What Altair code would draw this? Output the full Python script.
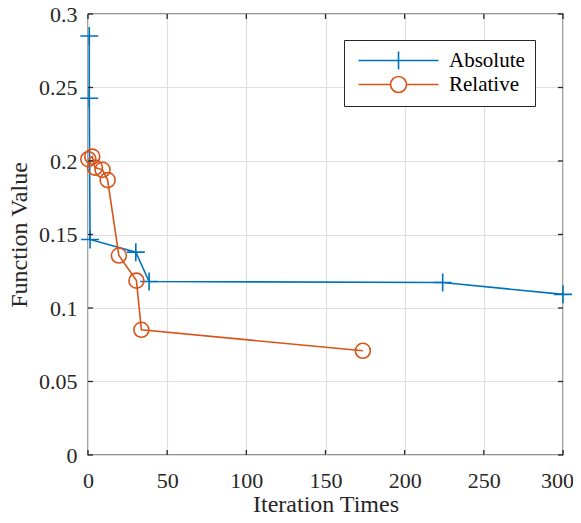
import altair as alt
import pandas as pd

# ---- data ----
abs_x = [0.8, 0.8, 1.3, 30.2, 38.6, 224, 300]
abs_y = [0.285, 0.2427, 0.1466, 0.138, 0.118, 0.1173, 0.1093]
rel_x = [0.2, 2.7, 4.4, 9.2, 12.4, 19.5, 30.6, 33.7, 173.6]
rel_y = [0.2012, 0.203, 0.1955, 0.194, 0.187, 0.1357, 0.1186, 0.0852, 0.0709]
series_names = ["Absolute", "Relative"]
series_colors = ["#0072BD", "#D95319"]
x_ticks = [0, 50, 100, 150, 200, 250, 300]
y_ticks = [0, 0.05, 0.1, 0.15, 0.2, 0.25, 0.3]
x_title = "Iteration Times"
y_title = "Function Value"

FONT = "Liberation Serif, Times New Roman, Times, serif"
W, H = 475, 441
AX = "#262626"

df = pd.concat([
    pd.DataFrame({"series": "Absolute", "x": abs_x, "y": abs_y, "idx": range(len(abs_x))}),
    pd.DataFrame({"series": "Relative", "x": rel_x, "y": rel_y, "idx": range(len(rel_x))}),
], ignore_index=True)

xscale = alt.Scale(domain=[0, 300], nice=False, zero=False)
yscale = alt.Scale(domain=[0, 0.3], nice=False, zero=False)
color_scale = alt.Scale(domain=series_names, range=series_colors)

xaxis = alt.Axis(values=x_ticks, title=x_title, labelPadding=15, titleY=49,
                 titleBaseline="middle", labelFlush=False,
                 labelOffset={"condition": {"test": "datum.value === 300", "value": -6}, "value": 0})
yaxis = alt.Axis(values=y_ticks, title=y_title, labelPadding=11, titleX=-62,
                 titleBaseline="alphabetic", labelFlush=False, format="~g")

X = alt.X("x:Q", scale=xscale, axis=xaxis)
Y = alt.Y("y:Q", scale=yscale, axis=yaxis)

base = alt.Chart(df)

lines = base.mark_line(strokeWidth=1.6, clip=False).encode(
    x=X, y=Y,
    color=alt.Color("series:N", scale=color_scale, legend=None),
    detail="series:N",
    order="idx:Q",
)

crosses = base.transform_filter("datum.series == 'Absolute'").mark_point(
    shape="M-1,0H1M0,-1V1", size=324, filled=False, strokeWidth=1.6, opacity=1, clip=False
).encode(
    x=X, y=Y,
    color=alt.Color("series:N", scale=color_scale, legend=None),
)

circles = base.transform_filter("datum.series == 'Relative'").mark_point(
    shape="circle", size=225, filled=False, strokeWidth=1.6, opacity=1, clip=False
).encode(
    x=X, y=Y,
    color=alt.Color("series:N", scale=color_scale, legend=None),
)

legend_paths = [
    "M-0.86,0H10.57M4.86,-1.29V1.29",
    "M-0.86,0H3.72M6,0H10.57M3.72,0A1.14,1.14 0 1,0 6,0A1.14,1.14 0 1,0 3.72,0",
]
leg = alt.Legend(title=None, orient="none", legendX=256, legendY=26,
                 labelFont=FONT, labelFontSize=21, labelColor="#000000",
                 symbolSize=196, symbolStrokeWidth=1.6, labelOffset=74,
                 padding=10, rowPadding=0, strokeColor=AX, fillColor="white",
                 cornerRadius=0, symbolOpacity=1)
legend_layer = base.mark_point(filled=False, strokeWidth=1.6, opacity=0).encode(
    x=X, y=Y,
    shape=alt.Shape("series:N", scale=alt.Scale(domain=series_names, range=legend_paths), legend=leg),
    stroke=alt.Stroke("series:N", scale=alt.Scale(domain=series_names, range=series_colors), legend=leg),
)

# inward tick marks on all four sides
xt = pd.DataFrame({"x": x_ticks})
yt = pd.DataFrame({"y": y_ticks})
tick_style = dict(color=AX, strokeWidth=1.3)
xb = alt.Chart(xt).mark_rule(**tick_style).encode(x=X, y=alt.value(H), y2=alt.value(H - 5))
xtop = alt.Chart(xt).mark_rule(**tick_style).encode(x=X, y=alt.value(0), y2=alt.value(5))
yl = alt.Chart(yt).mark_rule(**tick_style).encode(y=Y, x=alt.value(0), x2=alt.value(5))
yr = alt.Chart(yt).mark_rule(**tick_style).encode(y=Y, x=alt.value(W), x2=alt.value(W - 5))

chart = alt.layer(legend_layer, lines, crosses, circles, xb, xtop, yl, yr).properties(
    width=W, height=H,
    background="white",
    autosize=alt.AutoSizeParams(type="none"),
    padding={"left": 80, "top": 6, "right": 10, "bottom": 60},
).configure_view(
    stroke=AX, strokeWidth=1.3
).configure_axis(
    labelFont=FONT, titleFont=FONT, labelFontSize=22, titleFontSize=24,
    labelColor=AX, titleColor=AX, titleFontWeight="normal",
    grid=True, gridColor="#dfdfdf", gridWidth=1.2, ticks=False, domain=False,
)

chart.save("out.html", embed_options={"renderer": "svg", "actions": False})
